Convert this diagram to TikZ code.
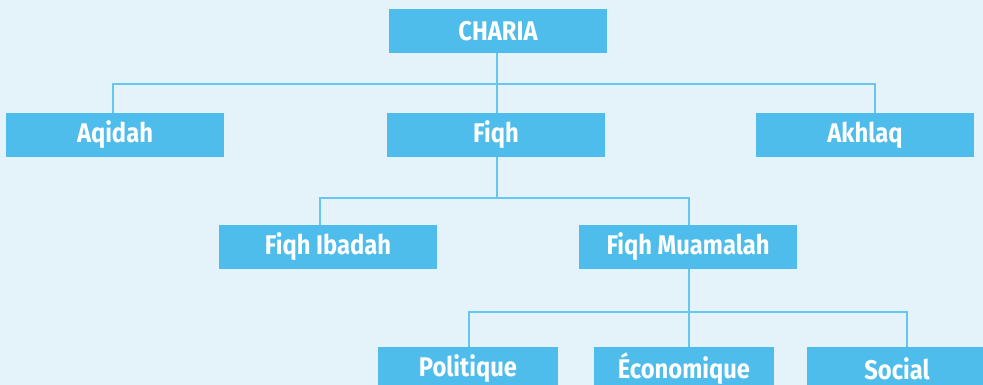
\documentclass[tikz,border=0pt]{standalone}
\usepackage{fontspec}
\setmainfont{Fira Sans}[FakeStretch=0.88]
\definecolor{bgblue}{HTML}{E4F3FA}
\definecolor{boxblue}{HTML}{4FBDEB}
\definecolor{lineblue}{HTML}{66C6EE}
\tikzset{
  orgbox/.style={fill=boxblue, draw=none, minimum width=218pt, minimum height=44pt,
    inner sep=0pt, text=white, font=\fontsize{27}{27}\selectfont\bfseries},
  smallbox/.style={orgbox, minimum width=180pt},
  link/.style={draw=lineblue, line width=1.1pt}
}
\begin{document}
\begin{tikzpicture}[x=1pt, y=-1pt]
  \useasboundingbox (0,0) rectangle (983,385);
  \clip (0,0) rectangle (983,385);
  \fill[bgblue] (0,0) rectangle (983,385);

  % level 0
  \node[orgbox] (charia) at (498,31) {CHARIA};
  % level 1
  \node[orgbox] (aqidah) at (115,135) {Aqidah};
  \node[orgbox] (fiqh)   at (496,135) {Fiqh};
  \node[orgbox] (akhlaq) at (865,135) {Akhlaq};
  % level 2
  \node[orgbox] (ibadah)   at (328,247) {Fiqh Ibadah};
  \node[orgbox] (muamalah) at (688,247) {Fiqh Muamalah};
  % level 3
  \node[smallbox] (politique) at (468,369) {Politique};
  \node[smallbox] (economie)  at (684,369) {Économique};
  \node[smallbox] (social)    at (897,369) {Social};

  % connectors
  \coordinate (j1) at (497,84);
  \draw[link] (charia.south -| j1) -- (j1);
  \draw[link] (fiqh.north -| j1) -- (j1);
  \draw[link] (aqidah.north -| 113,0) |- (j1) -| (akhlaq.north -| 875,0);

  \coordinate (j2) at (497,198);
  \draw[link] (fiqh.south -| j2) -- (j2);
  \draw[link] (ibadah.north -| 320,0) |- (j2) -| (muamalah.north -| 689,0);

  \coordinate (j3) at (689,312);
  \draw[link] (muamalah.south -| j3) -- (economie.north -| j3);
  \draw[link] (politique.north -| 469,0) |- (j3) -| (social.north -| 907,0);
\end{tikzpicture}
\end{document}
